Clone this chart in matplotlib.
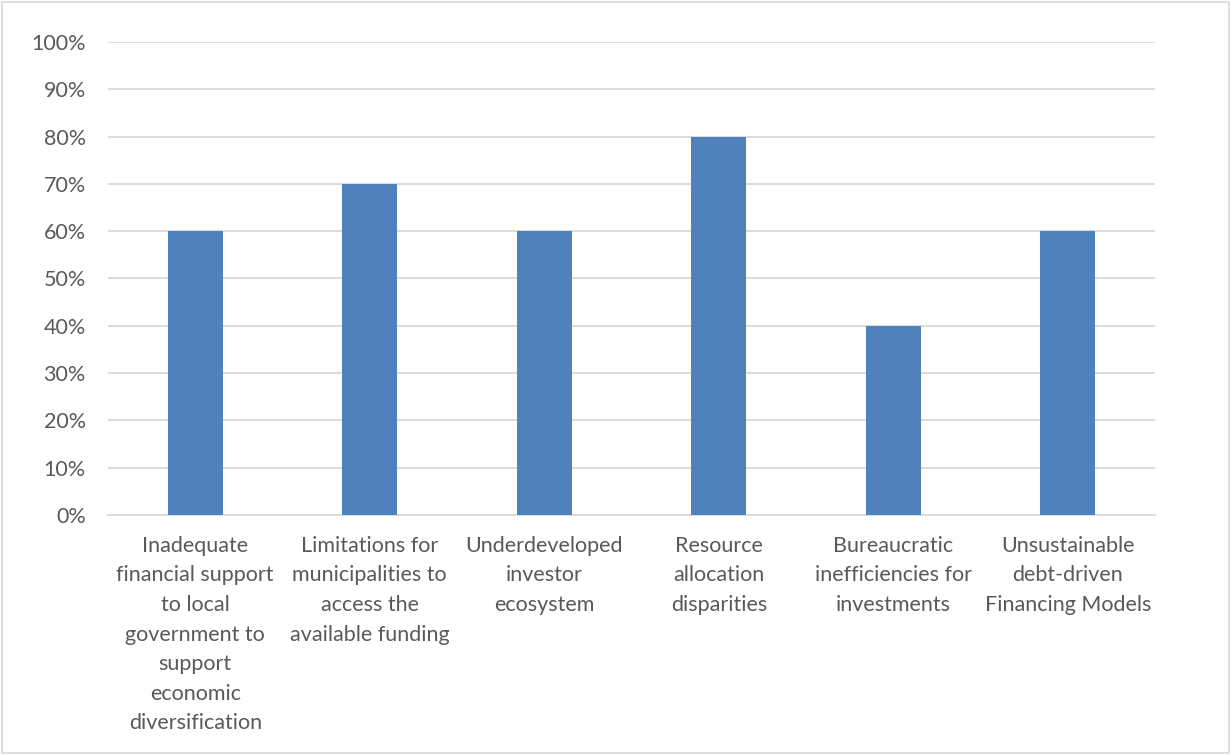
import matplotlib.pyplot as plt
from matplotlib.patches import Rectangle
from matplotlib.ticker import PercentFormatter

categories = [
    "Inadequate\nfinancial support\nto local\ngovernment to\nsupport\neconomic\ndiversification",
    "Limitations for\nmunicipalities to\naccess the\navailable funding",
    "Underdeveloped\ninvestor\necosystem",
    "Resource\nallocation\ndisparities",
    "Bureaucratic\ninefficiencies for\ninvestments",
    "Unsustainable\ndebt-driven\nFinancing Models",
]
values = [0.60, 0.70, 0.60, 0.80, 0.40, 0.60]
yticks = [i / 10 for i in range(11)]

plt.rcParams['font.family'] = ['Lato', 'DejaVu Sans']
text_color = '#595959'
grid_color = '#D9D9D9'

fig = plt.figure(figsize=(12.31, 7.55), dpi=100)
ax = fig.add_axes([0.0877, 0.3179, 0.8506, 0.6265])

x = range(len(categories))
ax.bar(x, values, width=0.315, color='#4F81BD', zorder=3)

ax.set_xlim(-0.5, len(categories) - 0.5)
ax.set_ylim(0, 1.0)
ax.set_yticks(yticks)
ax.yaxis.set_major_formatter(PercentFormatter(1.0, decimals=0))
ax.set_xticks(list(x))
ax.set_xticklabels(categories, linespacing=1.6)

ax.grid(axis='y', color=grid_color, linewidth=1.3, zorder=0)
for side in ['top', 'right', 'left']:
    ax.spines[side].set_visible(False)
ax.spines['bottom'].set_color(grid_color)
ax.spines['bottom'].set_linewidth(1.3)

ax.tick_params(axis='both', length=0, labelsize=15.5, labelcolor=text_color)
ax.tick_params(axis='y', pad=16)
ax.tick_params(axis='x', pad=15)

# thin frame around the whole chart
fig.patches.append(Rectangle((0.002, 0.003), 0.996, 0.995, transform=fig.transFigure,
                             fill=False, edgecolor='#D9D9D9', linewidth=1.2))

fig.savefig('out.png', dpi=100)
